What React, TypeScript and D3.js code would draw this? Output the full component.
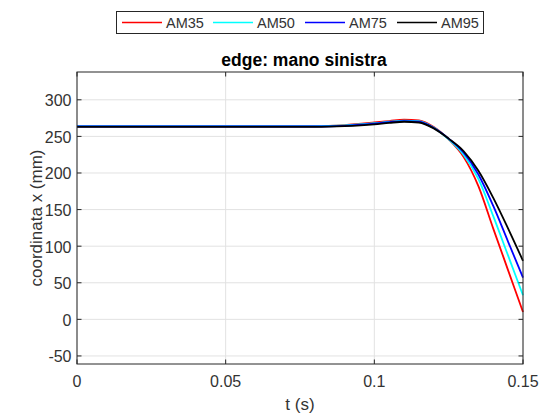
import React from "react";
import * as d3 from "d3";

const times = [0, 0.01, 0.02, 0.03, 0.04, 0.05, 0.06, 0.07, 0.08, 0.09, 0.1, 0.105, 0.11, 0.115, 0.12, 0.125, 0.13, 0.135, 0.14, 0.145, 0.15];
const am35 = [264, 264, 264, 264, 264, 264, 264, 264, 264, 265.5, 269, 271, 273, 272, 263, 246, 222, 182, 124, 67, 10];
const am50 = [264, 264, 264, 264, 264, 264, 264, 264, 264, 265, 268, 270, 271.5, 271, 262, 246, 225, 192, 141, 87, 33];
const am75 = [263.5, 263.5, 263.5, 263.5, 263.5, 263.5, 263.5, 263.5, 263.5, 264.5, 267.5, 269.5, 271, 270, 261.5, 247, 228, 198, 155, 106, 57];
const am95 = [263, 263, 263, 263, 263, 263, 263, 263, 263, 264, 266.5, 268.5, 270, 269, 261, 247, 230, 203, 166, 124, 80];

const seriesNames = ["AM35", "AM50", "AM75", "AM95"];
const seriesColors = ["#ff0000", "#00ffff", "#0000ff", "#000000"];
const seriesValues = [am35, am50, am75, am95];

const xTicks = [0, 0.05, 0.1, 0.15];
const xTickLabels = ["0", "0.05", "0.1", "0.15"];
const yTicks = [-50, 0, 50, 100, 150, 200, 250, 300];

const FONT = "'Liberation Sans', Arial, Helvetica, sans-serif";

export default function App() {
  const W = 547, H = 416;
  const L = 77, R = 523, T = 72, B = 364;
  const x = d3.scaleLinear().domain([0, 0.15]).range([L, R]);
  const y = d3.scaleLinear().domain([-61, 338]).range([B, T]);
  const line = d3.line<number>()
    .x((_, i) => x(times[i]))
    .y((d) => y(d))
    .curve(d3.curveMonotoneX);
  const axisColor = "#262626";
  const textColor = "#333333";
  const tl = 4.5;

  const legendX = [122, 213, 305, 397];
  return (
    <svg width={W} height={H} style={{ position: "absolute", left: 0, top: 0, background: "#fff" }} fontFamily={FONT}>
      <rect x={0} y={0} width={W} height={H} fill="#fff" />
      <rect x={L} y={T} width={R - L} height={B - T} fill="#fff" />
      {/* grid */}
      {xTicks.map((t, i) => (
        <line key={"gx" + i} x1={x(t)} x2={x(t)} y1={T} y2={B} stroke="#e2e2e2" strokeWidth={1} />
      ))}
      {yTicks.map((t, i) => (
        <line key={"gy" + i} x1={L} x2={R} y1={y(t)} y2={y(t)} stroke="#e2e2e2" strokeWidth={1} />
      ))}
      {/* series */}
      {seriesValues.map((vals, i) => (
        <path key={"s" + i} d={line(vals) || ""} fill="none" stroke={seriesColors[i]} strokeWidth={1.8} />
      ))}
      {/* box */}
      <rect x={L} y={T} width={R - L} height={B - T} fill="none" stroke={axisColor} strokeWidth={1} />
      {/* ticks */}
      {xTicks.map((t, i) => (
        <g key={"xt" + i}>
          <line x1={x(t)} x2={x(t)} y1={B} y2={B - tl} stroke={axisColor} />
          <line x1={x(t)} x2={x(t)} y1={T} y2={T + tl} stroke={axisColor} />
          <text x={x(t)} y={387} textAnchor="middle" fontSize={16} fill={textColor}>{xTickLabels[i]}</text>
        </g>
      ))}
      {yTicks.map((t, i) => (
        <g key={"yt" + i}>
          <line x1={L} x2={L + tl} y1={y(t)} y2={y(t)} stroke={axisColor} />
          <line x1={R} x2={R - tl} y1={y(t)} y2={y(t)} stroke={axisColor} />
          <text x={71.5} y={y(t) + 6.5} textAnchor="end" fontSize={16} fill={textColor}>{t}</text>
        </g>
      ))}
      {/* labels */}
      <text x={(L + R) / 2} y={410} textAnchor="middle" fontSize={17} fill={textColor}>t (s)</text>
      <text transform={`translate(42,${(T + B) / 2}) rotate(-90)`} textAnchor="middle" fontSize={17} fill={textColor}>coordinata x (mm)</text>
      <text x={304} y={65.5} textAnchor="middle" fontSize={17.5} fontWeight="bold" fill="#000">edge: mano sinistra</text>
      {/* legend */}
      <rect x={116.5} y={11.5} width={367} height={22} fill="#fff" stroke="#262626" strokeWidth={1} />
      {seriesNames.map((n, i) => (
        <g key={"lg" + i}>
          <line x1={legendX[i]} x2={legendX[i] + 40} y1={22.5} y2={22.5} stroke={seriesColors[i]} strokeWidth={1.6} />
          <text x={legendX[i] + 44} y={27.5} fontSize={14.5} fill={textColor}>{n}</text>
        </g>
      ))}
    </svg>
  );
}
